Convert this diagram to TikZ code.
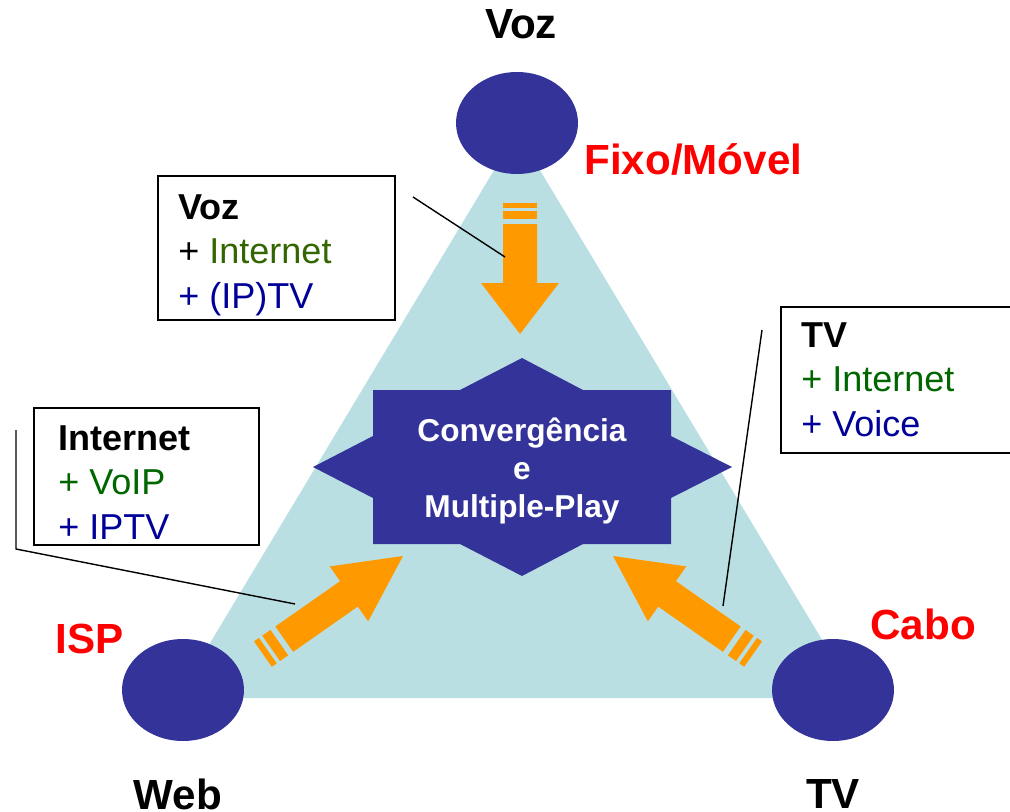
\documentclass[tikz,border=0pt]{standalone}
\usepackage{fontspec}
\setmainfont{Liberation Sans}
\usepackage{xcolor}
\usetikzlibrary{shapes.geometric}
\definecolor{tri}{RGB}{186,223,227}
\definecolor{pol}{RGB}{51,51,153}
\definecolor{laranja}{RGB}{255,153,0}
\definecolor{verm}{RGB}{255,0,0}
\definecolor{verde}{RGB}{51,102,0}
\definecolor{verdeesc}{RGB}{0,102,0}
\definecolor{azul}{RGB}{0,0,153}

\begin{document}
\begin{tikzpicture}[x=0.02cm, y=-0.02cm,
    every node/.style={inner sep=0pt, font=\fontsize{20.5}{25.3}\selectfont},
    rotulo/.style={font=\fontsize{24}{28}\selectfont\bfseries},
    polo/.style={ellipse, fill=pol, minimum width=2.44cm, minimum height=2.04cm},
    caixa/.style={draw, line width=1pt, fill=white, anchor=north west},
    texto/.style={anchor=north west, align=left},
    fio/.style={line width=0.8pt}]
    \useasboundingbox (0,0) rectangle (1010,811);
    \clip (0,0) rectangle (1010,811);
    % triangulo
    \fill[tri] (517,132) -- (177,698) -- (857,698) -- cycle;
    % polos
    \node[polo] (voz) at (517,123) {};
    \node[polo] (web) at (183,690) {};
    \node[polo] (tv) at (833,690) {};
    % rotulos
    \node[rotulo, anchor=base] (lvoz) at (521,39) {Voz};
    \node[rotulo, anchor=base] (lweb) at (178,809) {Web};
    \node[rotulo, anchor=base] (ltv) at (833,808) {TV};
    \node[rotulo, verm, anchor=base west] (lfixo) at (584,174) {Fixo/Móvel};
    \node[rotulo, verm, anchor=base west] (lisp) at (55,653) {ISP};
    \node[rotulo, verm, anchor=base west] (lcabo) at (870,639) {Cabo};
    % estrela central
    \fill[pol] (522,358) -- (583,390) -- (671,390) -- (671,436) -- (732,467)
        -- (671,498) -- (671,544) -- (583,544) -- (522,576) -- (460,544)
        -- (373,544) -- (373,498) -- (313,467) -- (373,436) -- (373,390)
        -- (460,390) -- cycle;
    \node[white, align=center, font=\fontsize{18}{21.6}\selectfont\bfseries] (conv)
        at (522,471) {Convergência\\e\\Multiple-Play};
    % seta de cima
    \begin{scope}[shift={(520,334)}, rotate=-90]
        \fill[laranja] (0,0) -- (-51,39) -- (-51,17) -- (-110,17) -- (-110,-17)
            -- (-51,-17) -- (-51,-39) -- cycle;
        \fill[laranja] (-115,17) rectangle (-123,-17);
        \fill[laranja] (-126,17) rectangle (-131,-17);
    \end{scope}
    % setas de baixo
    \foreach \px/\py/\ang in {403/556/35, 613/556/145}{
        \begin{scope}[shift={(\px,\py)}, rotate=\ang]
            \fill[laranja] (0,0) -- (-66,33.5) -- (-66,15.5) -- (-145,15.5)
                -- (-145,-15.5) -- (-66,-15.5) -- (-66,-33.5) -- cycle;
            \fill[laranja] (-151,15.5) rectangle (-161,-15.5);
            \fill[laranja] (-165,15.5) rectangle (-171,-15.5);
        \end{scope}
    }
    % caixas
    \node[caixa, minimum width=4.74cm, minimum height=2.88cm] (cxvoz) at (157,175) {};
    \node[caixa, minimum width=4.5cm, minimum height=2.74cm] (cxnet) at (33,407) {};
    \node[caixa, minimum width=5.2cm, minimum height=2.92cm] (cxtv) at (780,306) {};
    \node[texto] (txvoz) at (178,194)
        {\textbf{Voz}\\+ \textcolor{verde}{Internet}\\\textcolor{azul}{+ (IP)TV}};
    \node[texto] (txnet) at (58,425)
        {\textbf{Internet}\\\textcolor{verdeesc}{+ VoIP}\\\textcolor{azul}{+ IPTV}};
    \node[texto] (txtv) at (801,322)
        {\textbf{TV}\\\textcolor{verdeesc}{+ Internet}\\\textcolor{azul}{+ Voice}};
    % ligacoes
    \coordinate (avoz) at (413,197);
    \coordinate (bvoz) at (505,257);
    \coordinate (anet) at (16,430);
    \coordinate (cnet) at (16,549);
    \coordinate (bnet) at (295,604);
    \coordinate (atv) at (762,330);
    \coordinate (btv) at (723,606);
    \draw[fio] (avoz) -- (bvoz);
    \draw[fio] (anet) -- (cnet) -- (bnet);
    \draw[fio] (atv) -- (btv);
\end{tikzpicture}
\end{document}
